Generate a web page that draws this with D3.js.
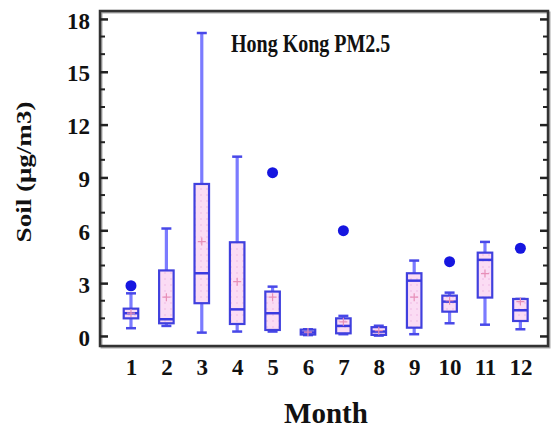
<!DOCTYPE html>
<html>
<head>
<meta charset="utf-8">
<script src="https://cdn.jsdelivr.net/npm/d3@7"></script>
<style>
  body { margin: 0; background: #fff; }
  svg text { font-family: "Liberation Serif", "Times New Roman", serif; font-weight: bold; fill: #111; }
</style>
</head>
<body>
<div id="chart"></div>
<script>
// Box plot data (Soil, µg/m3)
const months      = [1, 2, 3, 4, 5, 6, 7, 8, 9, 10, 11, 12];
const whiskerLow  = [0.44, 0.57, 0.19, 0.25, 0.25, 0.05, 0.10, 0.02, 0.10, 0.72, 0.64, 0.38];
const q1          = [1.00, 0.72, 1.86, 0.68, 0.34, 0.08, 0.15, 0.06, 0.47, 1.38, 2.18, 0.85];
const medians     = [1.29, 0.95, 3.56, 1.51, 1.29, 0.20, 0.57, 0.25, 3.14, 1.95, 4.32, 1.46];
const q3          = [1.55, 3.72, 8.63, 5.32, 2.52, 0.36, 1.00, 0.50, 3.56, 2.29, 4.73, 2.10];
const whiskerHigh = [2.42, 6.10, 17.2, 10.18, 2.80, 0.38, 1.14, 0.58, 4.28, 2.46, 5.34, 2.10];
const means       = [1.30, 2.20, 5.36, 3.08, 2.20, 0.22, 0.80, 0.30, 2.20, 2.00, 3.54, 1.95];
const outlierMonth = [1, 5, 7, 10, 12];
const outlierValue = [2.85, 9.27, 5.98, 4.22, 4.98];
const yTicks = [0, 3, 6, 9, 12, 15, 18];

const width = 552, height = 430;
const frame = { left: 100, right: 548, top: 11, bottom: 346 };

const svg = d3.select("#chart")
  .append("svg")
  .attr("width", width)
  .attr("height", height);

const x = d3.scaleLinear().domain([0.125, 12.78]).range([frame.left, frame.right]);
const y = d3.scaleLinear().domain([-0.57, 18.45]).range([frame.bottom, frame.top]);
const boxW = x(1.41) - x(1);

// frame
svg.append("rect")
  .attr("x", frame.left + 1.5).attr("y", frame.top + 1.5)
  .attr("width", frame.right - frame.left).attr("height", frame.bottom - frame.top)
  .attr("fill", "none").attr("stroke", "#aaa").attr("stroke-width", 2);
svg.append("rect")
  .attr("x", frame.left).attr("y", frame.top)
  .attr("width", frame.right - frame.left).attr("height", frame.bottom - frame.top)
  .attr("fill", "none").attr("stroke", "#333").attr("stroke-width", 2.5);

// y axis ticks on both sides, pointing in
const minor = d3.range(0, 18.01, 1);
const leftAxis = d3.axisLeft(y).tickValues(yTicks).tickSize(-8).tickPadding(10).tickFormat(d3.format("d"));
const gl = svg.append("g").attr("transform", `translate(${frame.left},0)`).call(leftAxis);
gl.select(".domain").remove();
gl.selectAll(".tick line").attr("stroke", "#222").attr("stroke-width", 2.5);
gl.selectAll(".tick text").attr("font-size", 23).attr("fill", "#111").attr("dy", "0.4em");

const gr = svg.append("g").attr("transform", `translate(${frame.right},0)`)
  .call(d3.axisRight(y).tickValues(yTicks).tickSize(-8).tickFormat(""));
gr.select(".domain").remove();
gr.selectAll(".tick line").attr("stroke", "#222").attr("stroke-width", 2.5);

[[frame.left, 5], [frame.right, -5]].forEach(([x0, len]) => {
  svg.append("g").selectAll("line")
    .data(minor.filter(d => d % 3 !== 0))
    .join("line")
    .attr("x1", x0).attr("x2", x0 + len)
    .attr("y1", d => y(d)).attr("y2", d => y(d))
    .attr("stroke", "#222").attr("stroke-width", 2);
});

// x labels
const gx = svg.append("g").attr("transform", `translate(0,${frame.bottom})`)
  .call(d3.axisBottom(x).tickValues(months).tickSize(0).tickPadding(13).tickFormat(d3.format("d")));
gx.select(".domain").remove();
gx.selectAll(".tick text").attr("font-size", 23).attr("fill", "#111");

// box fill pattern
const defs = svg.append("defs");
const pat = defs.append("pattern").attr("id", "dots")
  .attr("patternUnits", "userSpaceOnUse").attr("width", 6).attr("height", 6);
pat.append("rect").attr("width", 6).attr("height", 6).attr("fill", "#fbdcf4");
pat.append("circle").attr("cx", 3).attr("cy", 3).attr("r", 0.8).attr("fill", "#efb6e3");

const boxes = svg.append("g");
months.forEach((m, i) => {
  const cx = x(m);
  const g = boxes.append("g");
  // whiskers
  g.append("line")
    .attr("x1", cx).attr("x2", cx)
    .attr("y1", y(q3[i])).attr("y2", y(whiskerHigh[i]))
    .attr("stroke", "#7b7bff").attr("stroke-width", 3.2);
  g.append("line")
    .attr("x1", cx).attr("x2", cx)
    .attr("y1", y(q1[i])).attr("y2", y(whiskerLow[i]))
    .attr("stroke", "#7b7bff").attr("stroke-width", 3.2);
  [whiskerHigh[i], whiskerLow[i]].forEach(v => {
    g.append("line")
      .attr("x1", cx - 5).attr("x2", cx + 5)
      .attr("y1", y(v)).attr("y2", y(v))
      .attr("stroke", "#4848e8").attr("stroke-width", 2.5);
  });
  // box
  g.append("rect")
    .attr("x", cx - boxW / 2).attr("width", boxW)
    .attr("y", y(q3[i])).attr("height", Math.max(2, y(q1[i]) - y(q3[i])))
    .attr("fill", "url(#dots)").attr("stroke", "#4040de").attr("stroke-width", 2.2);
  g.append("line")
    .attr("x1", cx - boxW / 2).attr("x2", cx + boxW / 2)
    .attr("y1", y(medians[i])).attr("y2", y(medians[i]))
    .attr("stroke", "#3a3ae0").attr("stroke-width", 2.5);
  // mean marker
  const my = y(means[i]);
  g.append("path")
    .attr("d", `M${cx - 4},${my}H${cx + 4}M${cx},${my - 4}V${my + 4}`)
    .attr("stroke", "#e78fb8").attr("stroke-width", 1.2);
});

// outliers
svg.append("g").selectAll("circle")
  .data(outlierMonth.map((m, i) => [m, outlierValue[i]]))
  .join("circle")
  .attr("cx", d => x(d[0])).attr("cy", d => y(d[1]))
  .attr("r", 5.5).attr("fill", "#1616e0");

// labels (the source figure is stretched vertically)
svg.append("text")
  .attr("transform", "translate(231,52) scale(1,1.26)")
  .attr("font-size", 20)
  .text("Hong Kong PM2.5");

svg.append("text")
  .attr("x", 326).attr("y", 423)
  .attr("text-anchor", "middle")
  .attr("font-size", 29)
  .text("Month");

svg.append("text")
  .attr("transform", "translate(31,172) rotate(-90) scale(1.23,1)")
  .attr("text-anchor", "middle")
  .attr("font-size", 22)
  .text("Soil (μg/m3)");
</script>
</body>
</html>
